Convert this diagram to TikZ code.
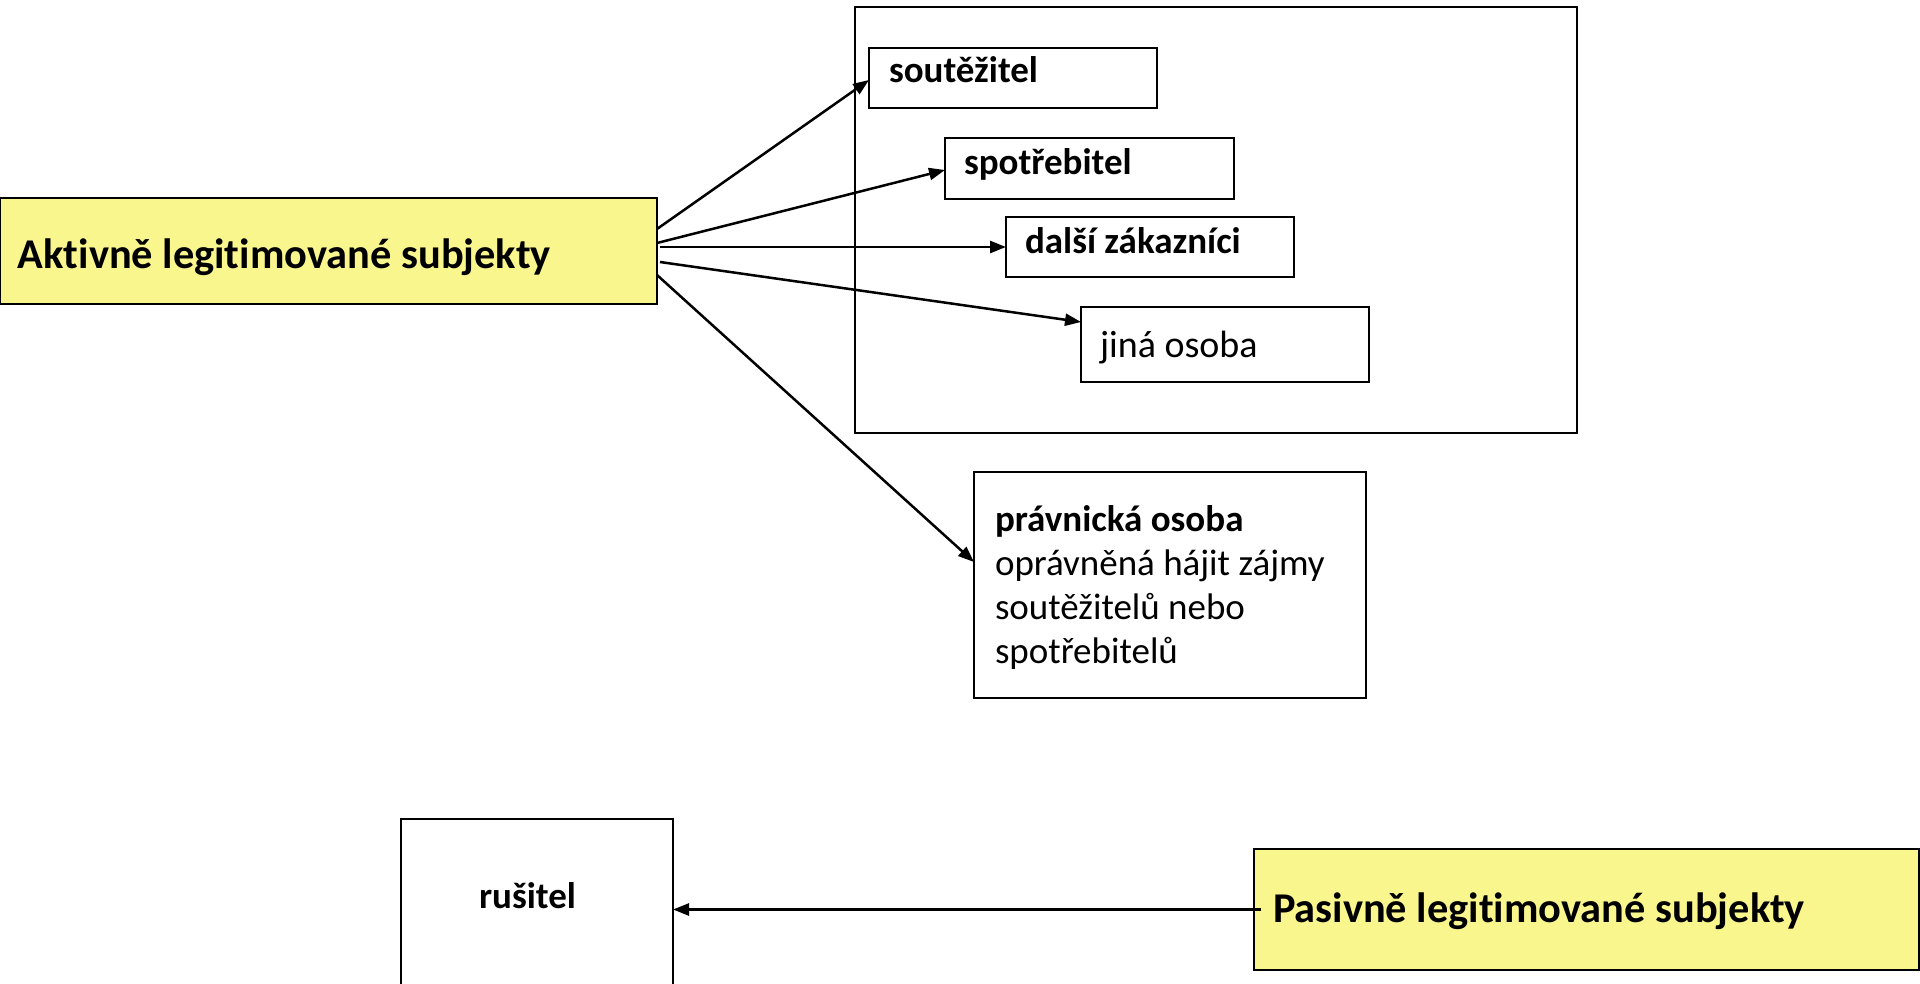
\documentclass[tikz,border=0pt]{standalone}
\usepackage{fontspec}
\setmainfont{Carlito}[Ligatures=NoCommon]
\usetikzlibrary{arrows.meta,calc}
\definecolor{boxyellow}{RGB}{250,246,142}
\begin{document}
\begin{tikzpicture}[x=0.5pt,y=-0.5pt,
  frame/.style={draw=black,line width=1pt,rectangle,inner sep=0pt,outer sep=0pt,anchor=north west},
  yellowbox/.style={frame,fill=boxyellow},
  lbl/.style={anchor=base west,inner sep=0pt,outer sep=0pt},
  bigbold/.style={lbl,font=\fontsize{21.2}{25}\selectfont\bfseries},
  smallbold/.style={lbl,font=\fontsize{18.5}{22}\selectfont\bfseries},
  plain/.style={lbl,font=\fontsize{19}{22}\selectfont},
  arr/.style={draw=black,line width=1.25pt,-{Triangle[length=8pt,width=6pt]}}]
\clip (0,0) rectangle (1920,984);
\useasboundingbox (0,0) rectangle (1920,984);
\fill[white] (0,0) rectangle (1920,984);
% boxes
\node[yellowbox,minimum width=328.5pt,minimum height=53pt] (akt) at (0,198) {};
\node[frame,minimum width=361pt,minimum height=213pt] (outer) at (855,7) {};
\node[frame,minimum width=144pt,minimum height=30pt] (sout) at (869,48) {};
\node[frame,minimum width=144.5pt,minimum height=30.5pt] (spot) at (945,138) {};
\node[frame,minimum width=144pt,minimum height=30pt] (dalsi) at (1006,217) {};
\node[frame,minimum width=144pt,minimum height=37.5pt] (jina) at (1081,307) {};
\node[frame,minimum width=196pt,minimum height=113pt] (prav) at (974,472) {};
\node[frame,minimum width=136pt,minimum height=95pt] (rus) at (401,819) {};
\node[yellowbox,minimum width=332.5pt,minimum height=60.5pt] (pas) at (1254,849) {};
% texts
\node[bigbold] (akttext) at (18,268) {Aktivně legitimované subjekty};
\node[smallbold] (souttext) at (889,83) {soutěžitel};
\node[smallbold] (spottext) at (964,175) {spotřebitel};
\node[smallbold] (dalsitext) at (1025,253) {další zákazníci};
\node[plain] (jinatext) at (1100,357) {jiná osoba};
\node[lbl] (pravtext) at (995,531) {\vtop{\baselineskip=22pt\lineskiplimit=-20pt
  \hbox{\fontsize{18.5}{22}\selectfont\bfseries právnická osoba}
  \hbox{\fontsize{18.5}{22}\selectfont oprávněná hájit zájmy}
  \hbox{\fontsize{18.5}{22}\selectfont soutěžitelů nebo}
  \hbox{\fontsize{18.5}{22}\selectfont spotřebitelů}}};
\node[smallbold] (rustext) at (479,908) {rušitel};
\node[bigbold] (pastext) at (1273,922) {Pasivně legitimované subjekty};
% connectors
\draw[arr] (akt.east |- 0,229) -- (sout.west |- 0,80);
\draw[arr] (akt.east |- 0,243) -- (spot.west |- 0,170);
\draw[arr] ([xshift=1.5pt]akt.east |- 0,247) -- (dalsi.west |- 0,247);
\draw[arr] ([xshift=1.5pt]akt.east |- 0,262) -- (jina.west |- 0,322);
\draw[arr] (akt.east |- 0,275) -- (prav.west |- 0,562);
\draw[arr] ([xshift=3.5pt]pas.west) -- (rus.east |- pas.west);
\end{tikzpicture}
\end{document}
